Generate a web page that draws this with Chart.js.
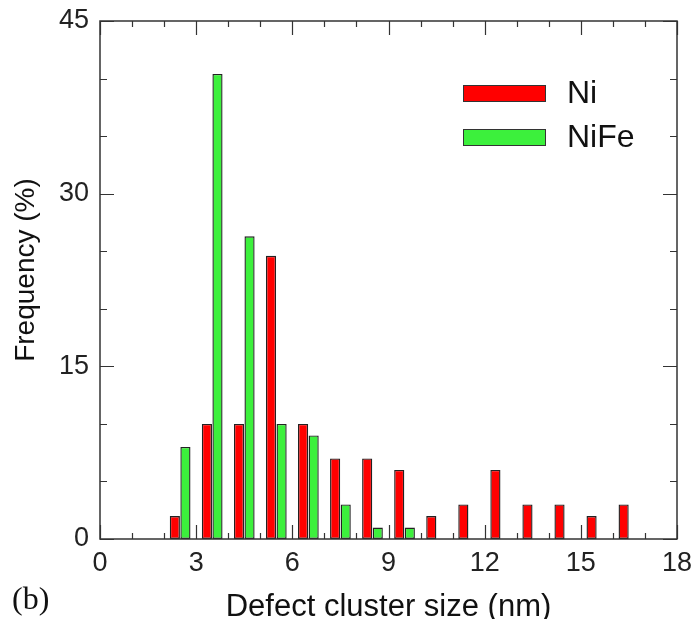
<!DOCTYPE html>
<html>
<head>
<meta charset="utf-8">
<script src="https://cdn.jsdelivr.net/npm/chart.js@4"></script>
<style>
    html, body { margin: 0; padding: 0; background: #fff; }
    #wrap { width: 695px; height: 619px; }
</style>
</head>
<body>
<div id="wrap"><canvas id="histChart" width="695" height="619"></canvas></div>
<script>
// bin centres (nm) and frequencies (%)
const sizeBins = [2.5, 3.5, 4.5, 5.5, 6.5, 7.5, 8.5, 9.5, 10.5, 11.5, 12.5, 13.5, 14.5, 15.5, 16.5];
const niFreq = [2, 10, 10, 24.6, 10, 7, 7, 6, 2, 3, 6, 3, 3, 2, 3];
const niFeBins = [2.5, 3.5, 4.5, 5.5, 6.5, 7.5, 8.5, 9.5];
const niFeFreq = [8, 40.4, 26.3, 10, 9, 3, 1, 1];

const xTicks = [0, 3, 6, 9, 12, 15, 18];
const yTicks = [0, 15, 30, 45];

const SANS = '"Liberation Sans", Arial, sans-serif';
const FRAME = "#333";

const toPoints = (xs, ys) => xs.map((x, i) => ({ x, y: ys[i] }));

// frame box with inward ticks on all four sides
const framePlugin = {
    id: "frame",
    afterDatasetsDraw(chart) {
        const { ctx, chartArea: a, scales: { x, y } } = chart;
        ctx.save();
        ctx.strokeStyle = FRAME;
        ctx.lineWidth = 1.5;
        ctx.strokeRect(a.left, a.top, a.right - a.left, a.bottom - a.top);
        ctx.lineWidth = 1.2;
        ctx.beginPath();
        for (let v = x.min; v <= x.max; v += 1) {
            const px = Math.round(x.getPixelForValue(v)) + 0.5;
            const len = v % 3 === 0 ? 14 : 6;
            ctx.moveTo(px, a.bottom); ctx.lineTo(px, a.bottom - len);
            ctx.moveTo(px, a.top); ctx.lineTo(px, a.top + len);
        }
        for (let v = y.min; v <= y.max; v += 5) {
            const py = Math.round(y.getPixelForValue(v)) + 0.5;
            const len = v % 15 === 0 ? 14 : 7;
            ctx.moveTo(a.left, py); ctx.lineTo(a.left + len, py);
            ctx.moveTo(a.right, py); ctx.lineTo(a.right - len, py);
        }
        ctx.stroke();
        ctx.restore();
    }
};

// legend, y-axis title and panel letter
const notesPlugin = {
    id: "notes",
    afterDraw(chart) {
        const { ctx, chartArea: a } = chart;
        ctx.save();
        chart.data.datasets.forEach((ds, i) => {
            const bx = a.right - 214, by = a.top + 64 + i * 44;
            ctx.fillStyle = ds.backgroundColor;
            ctx.fillRect(bx, by, 82, 16);
            ctx.strokeStyle = "#333";
            ctx.lineWidth = 1;
            ctx.strokeRect(bx + 0.5, by + 0.5, 82, 16);
            ctx.fillStyle = "#111";
            ctx.font = "32px " + SANS;
            ctx.textBaseline = "middle";
            ctx.fillText(ds.label, bx + 104, by + 9);
        });

        ctx.save();
        ctx.translate(26, 270);
        ctx.rotate(-Math.PI / 2);
        ctx.font = "28px " + SANS;
        ctx.textAlign = "center";
        ctx.textBaseline = "middle";
        ctx.fillStyle = "#111";
        ctx.fillText("Frequency (%)", 0, 0);
        ctx.restore();

        ctx.font = '32px "Liberation Serif", "Times New Roman", serif';
        ctx.textBaseline = "alphabetic";
        ctx.fillStyle = "#111";
        ctx.fillText("(b)", 12, 609);
        ctx.restore();
    }
};

new Chart(document.getElementById("histChart"), {
    type: "bar",
    data: {
        datasets: [
            {
                label: "Ni",
                data: toPoints(sizeBins, niFreq),
                backgroundColor: "#ff0000",
                borderColor: "#222",
                borderWidth: 1.4,
                borderSkipped: false
            },
            {
                label: "NiFe",
                data: toPoints(niFeBins, niFeFreq),
                backgroundColor: "#3cf03c",
                borderColor: "#222",
                borderWidth: 1.4,
                borderSkipped: false
            }
        ]
    },
    options: {
        responsive: false,
        animation: false,
        categoryPercentage: 0.66,
        barPercentage: 0.96,
        layout: { padding: { top: 21, right: 18, left: 0, bottom: 0 } },
        plugins: { legend: { display: false }, tooltip: { enabled: false } },
        scales: {
            x: {
                type: "linear",
                offset: false,
                min: 0,
                max: 18,
                grid: { display: false, drawTicks: false },
                border: { display: false },
                afterBuildTicks: s => { s.ticks = xTicks.map(value => ({ value })); },
                ticks: { font: { size: 27, family: SANS }, color: "#222", padding: 8, maxRotation: 0 },
                title: {
                    display: true,
                    text: "Defect cluster size (nm)",
                    font: { size: 31, family: SANS, lineHeight: 0.72 },
                    color: "#111",
                    padding: { top: 0, bottom: 0 }
                },
                afterFit: s => { s.height = 80; s.paddingLeft = 0; s.paddingRight = 0; }
            },
            y: {
                min: 0,
                max: 45,
                grid: { display: false, drawTicks: false },
                border: { display: false },
                afterBuildTicks: s => { s.ticks = yTicks.map(value => ({ value })); },
                ticks: { font: { size: 27, family: SANS }, color: "#222", padding: 11 },
                afterFit: s => { s.width = 100; s.paddingTop = 0; s.paddingBottom = 0; }
            }
        }
    },
    plugins: [framePlugin, notesPlugin]
});
</script>
</body>
</html>
